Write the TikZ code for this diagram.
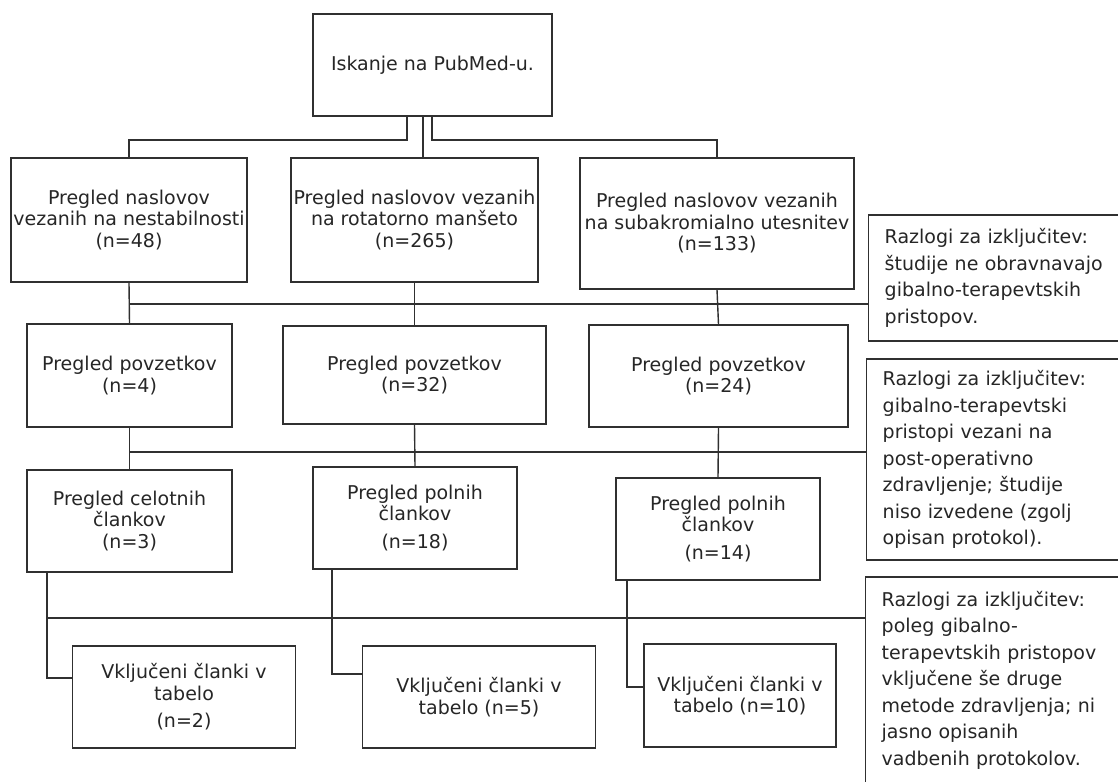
\documentclass[tikz,border=0pt]{standalone}
\usepackage{fontspec}
\setmainfont{DejaVu Sans}
\definecolor{linec}{HTML}{303030}
\definecolor{txtc}{HTML}{262626}
\begin{document}
\begin{tikzpicture}[x=1pt,y=-1pt,
  box/.style={draw=linec, line width=1.4pt, inner sep=0pt, align=center,
    font=\fontsize{19}{21.5}\selectfont, text=txtc},
  exbox/.style={draw=linec, line width=1.4pt, inner xsep=16pt, inner ysep=0pt,
    anchor=west, text width=250pt, align=left,
    font=\fontsize{19}{26.5}\selectfont, text=txtc},
  conn/.style={draw=linec, line width=1.4pt}]
\useasboundingbox (0,0) rectangle (1118,781);
\clip (0,0) rectangle (1118,781);
\fill[white] (0,0) rectangle (1118,781);

% top
\node[box, minimum width=239pt, minimum height=102pt] (T) at (432.5,65) {Iskanje na PubMed-u.};

% row 1
\node[box, minimum width=236pt, minimum height=124pt] (A1) at (129,220)
  {Pregled naslovov\\vezanih na nestabilnosti\\(n=48)};
\node[box, minimum width=247pt, minimum height=124pt] (B1) at (414.5,220)
  {Pregled naslovov vezanih\\na rotatorno manšeto\\(n=265)};
\node[box, minimum width=274pt, minimum height=131pt] (C1) at (717,223.5)
  {Pregled naslovov vezanih\\na subakromialno utesnitev\\(n=133)};

% row 2
\node[box, minimum width=205pt, minimum height=103pt] (A2) at (129.5,375.5)
  {Pregled povzetkov\\(n=4)};
\node[box, minimum width=263pt, minimum height=98pt] (B2) at (414.5,375)
  {Pregled povzetkov\\(n=32)};
\node[box, minimum width=259pt, minimum height=102pt] (C2) at (718.5,376)
  {Pregled povzetkov\\(n=24)};

% row 3
\node[box, minimum width=205pt, minimum height=102pt] (A3) at (129.5,521)
  {Pregled celotnih\\člankov\\(n=3)};
\node[box, minimum width=204pt, minimum height=102pt] (B3) at (415,518)
  {Pregled polnih\\člankov\\[6pt](n=18)};
\node[box, minimum width=204pt, minimum height=102pt] (C3) at (718,529)
  {Pregled polnih\\člankov\\[6pt](n=14)};

% row 4
\node[box, minimum width=223pt, minimum height=102pt] (A4) at (184,697)
  {Vključeni članki v\\tabelo\\[6pt](n=2)};
\node[box, minimum width=233pt, minimum height=102pt] (B4) at (479,697)
  {Vključeni članki v\\tabelo (n=5)};
\node[box, minimum width=192pt, minimum height=103pt] (C4) at (740,695.5)
  {Vključeni članki v\\tabelo (n=10)};

% exclusion boxes
\node[exbox, minimum height=126pt] (E1) at (868,278)
  {Razlogi za izključitev:\\študije ne obravnavajo\\gibalno-terapevtskih\\pristopov.};
\node[exbox, minimum height=201pt] (E2) at (866,459.5)
  {Razlogi za izključitev:\\gibalno-terapevtski\\pristopi vezani na\\post-operativno\\zdravljenje; študije\\niso izvedene (zgolj\\opisan protokol).};
\node[exbox, minimum height=206pt] (E3) at (865,680)
  {Razlogi za izključitev:\\poleg gibalno-\\terapevtskih pristopov\\vključene še druge\\metode zdravljenja; ni\\jasno opisanih\\vadbenih protokolov.};

% helper coordinates
\coordinate (tl) at (407,140);
\coordinate (tm) at (423,140);
\coordinate (tr) at (432,140);
\coordinate (h1) at (0,304);
\coordinate (h2) at (0,452);
\coordinate (h3) at (0,618);
\coordinate (da) at (47,678);
\coordinate (db) at (332,674);
\coordinate (dc) at (627,687);

% connectors from top
\draw[conn] (tl |- T.south) |- (A1.north |- tl) -- (A1.north);
\draw[conn] (tm |- T.south) -- (tm |- B1.north);
\draw[conn] (tr |- T.south) |- (C1.north |- tr) -- (C1.north);

% row1 -> row2
\draw[conn] (A1.south) -- (A2.north);
\draw[conn] (B1.south) -- (B2.north);
\draw[conn] (C1.south) -- (C2.north);
\draw[conn] (A1.south |- h1) -- (E1.west |- h1);

% row2 -> row3
\draw[conn] (A2.south) -- (A3.north);
\draw[conn] (B2.south) -- (B3.north);
\draw[conn] (C2.south) -- (C3.north);
\draw[conn] (A2.south |- h2) -- (E2.west |- h2);

% row3 -> row4
\draw[conn] (da |- A3.south) |- (A4.west |- da);
\draw[conn] (db |- B3.south) |- (B4.west |- db);
\draw[conn] (dc |- C3.south) |- (C4.west |- dc);
\draw[conn] (da |- h3) -- (E3.west |- h3);
\end{tikzpicture}
\end{document}
